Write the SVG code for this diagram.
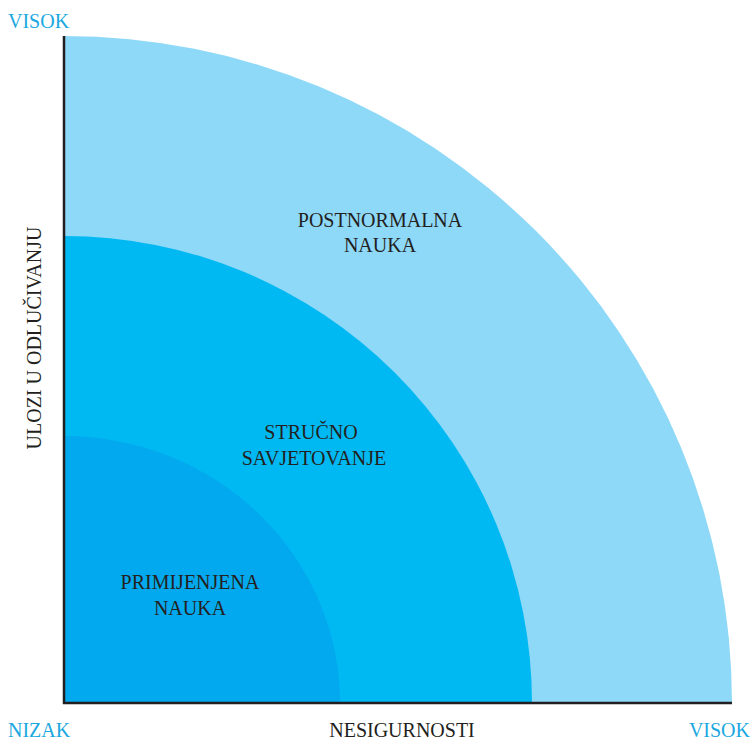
<svg xmlns="http://www.w3.org/2000/svg" width="752" height="741" viewBox="0 0 752 741">
<style>
.lbl{font-family:"Liberation Serif","DejaVu Serif",serif;font-size:20px;fill:#231F20;text-anchor:middle}
.ax{font-family:"Liberation Serif","DejaVu Serif",serif;font-size:20px;fill:#1BA8E0}
.axis{stroke:#231F20;stroke-width:2.5;fill:none}
</style>
<rect width="752" height="741" fill="#ffffff"/>
<g id="postnormalna">
<path d="M64,703 L64,36 A668,667 0 0 1 732,703 Z" fill="#8ED8F8"/>
<text class="lbl" x="380" y="227">POSTNORMALNA</text>
<text class="lbl" x="380" y="252">NAUKA</text>
</g>
<g id="strucno">
<path d="M64,703 L64,236 A468,467 0 0 1 532,703 Z" fill="#00B9F2"/>
<text class="lbl" x="311" y="439">STRUČNO</text>
<text class="lbl" x="314" y="465">SAVJETOVANJE</text>
</g>
<g id="primijenjena">
<path d="M64,703 L64,436 A276,267 0 0 1 340,703 Z" fill="#03A9EE"/>
<text class="lbl" x="190" y="589">PRIMIJENJENA</text>
<text class="lbl" x="190" y="615">NAUKA</text>
</g>
<g id="axes">
<line class="axis" x1="64" y1="36" x2="64" y2="704"/>
<line class="axis" x1="63" y1="703" x2="732" y2="703"/>
</g>
<g id="labels">
<text class="ax" x="8" y="28">VISOK</text>
<text class="ax" x="8" y="737">NIZAK</text>
<text class="ax" x="750" y="737" text-anchor="end">VISOK</text>
<text class="lbl" x="402" y="737">NESIGURNOSTI</text>
<text class="lbl" transform="translate(41,338) rotate(-90)">ULOZI U ODLUČIVANJU</text>
</g>
</svg>
